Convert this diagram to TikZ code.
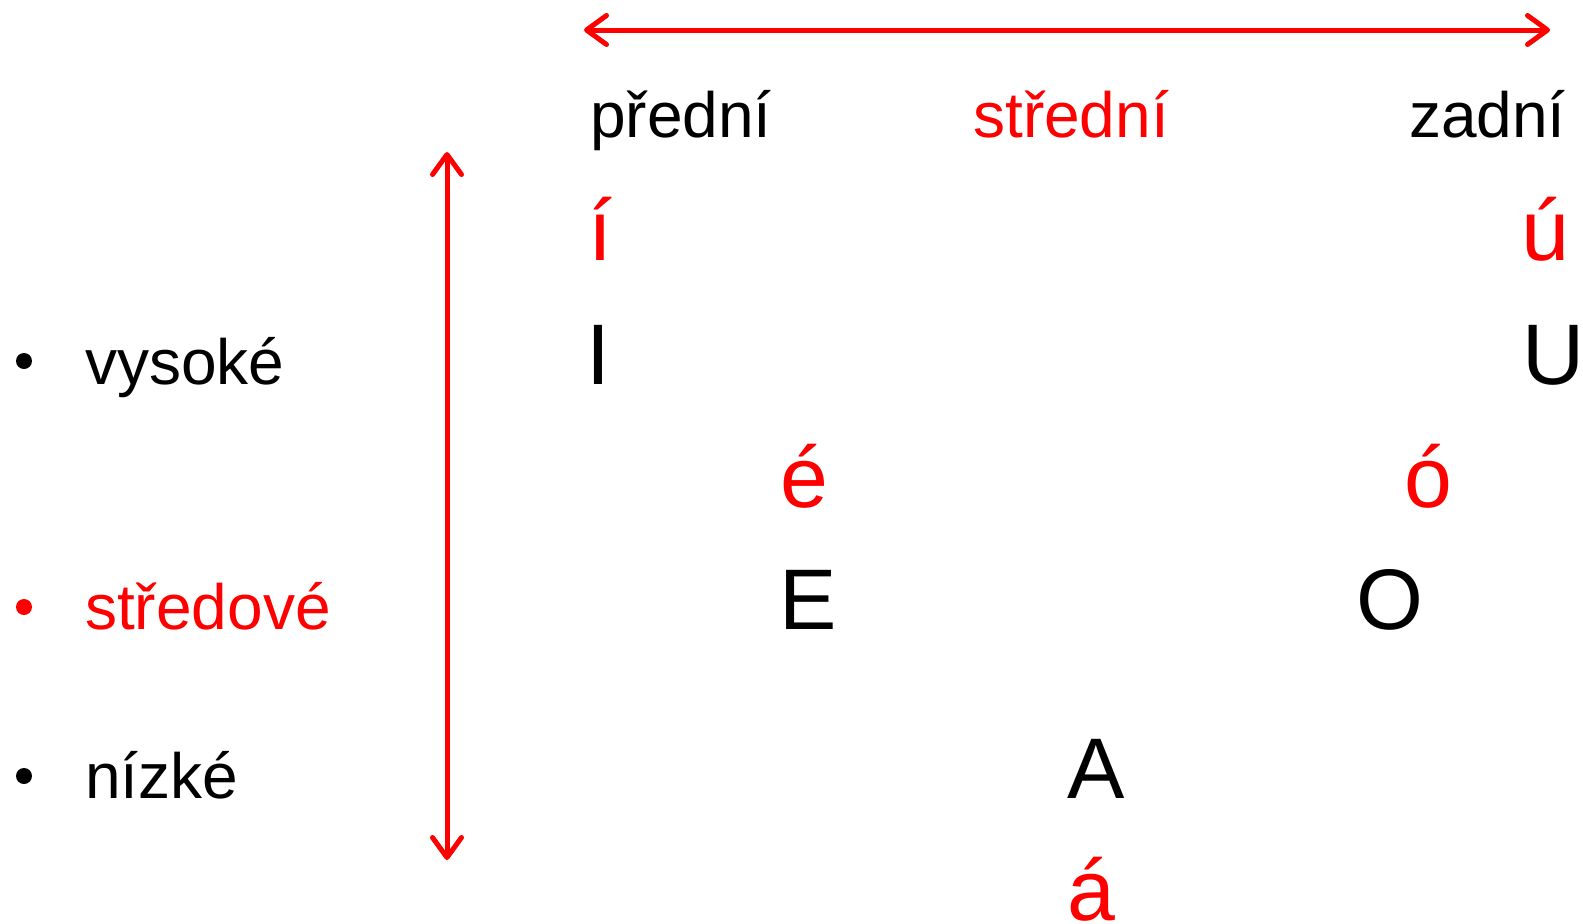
\documentclass[tikz,border=0pt]{standalone}
\usepackage{fontspec}
\setmainfont{Liberation Sans}
\usetikzlibrary{arrows.meta}
\begin{document}
\begin{tikzpicture}[x=1pt,y=-1pt,
  lab/.style={inner sep=0pt, anchor=base west, font=\fontsize{64}{70}\selectfont},
  vow/.style={inner sep=0pt, anchor=base west, font=\fontsize{86}{90}\selectfont},
  bul/.style={circle, fill, inner sep=0pt, minimum size=16pt},
  axis/.style={red, line width=5pt,
    {Straight Barb[length=20pt,width=29pt,round]}-{Straight Barb[length=20pt,width=29pt,round]}}]
\useasboundingbox (0,0) rectangle (1583,924);
% axes
\coordinate (hL) at (584,30);
\coordinate (hR) at (1550,30);
\coordinate (vT) at (447,152);
\coordinate (vB) at (447,860);
\draw[axis] (hL) -- (hR);
\draw[axis] (vT) -- (vB);
% column headers
\node[lab] (predni) at (590,137) {přední};
\node[lab,red] (stredni) at (973,137) {střední};
\node[lab] (zadni) at (1409,137) {zadní};
% vowels
\node[vow,red] (il) at (588,260) {í};
\node[vow,red] (ul) at (1521,260) {ú};
\node[vow] (Ik) at (586,384) {I};
\node[vow] (Uk) at (1522,384) {U};
\node[vow,red] (el) at (780,507) {é};
\node[vow,red] (ol) at (1404,507) {ó};
\node[vow] (Ek) at (779,629) {E};
\node[vow] (Ok) at (1356,629) {O};
\node[vow] (Ak) at (1067,798) {A};
\node[vow,red] (al) at (1067,920) {á};
% row labels
\node[bul] (b1) at (24,361) {};
\node[bul,red] (b2) at (24,607) {};
\node[bul] (b3) at (24,776) {};
\node[lab] (vysoke) at (85,384) {vysoké};
\node[lab,red] (stredove) at (85,629) {středové};
\node[lab] (nizke) at (85,798) {nízké};
\end{tikzpicture}
\end{document}
